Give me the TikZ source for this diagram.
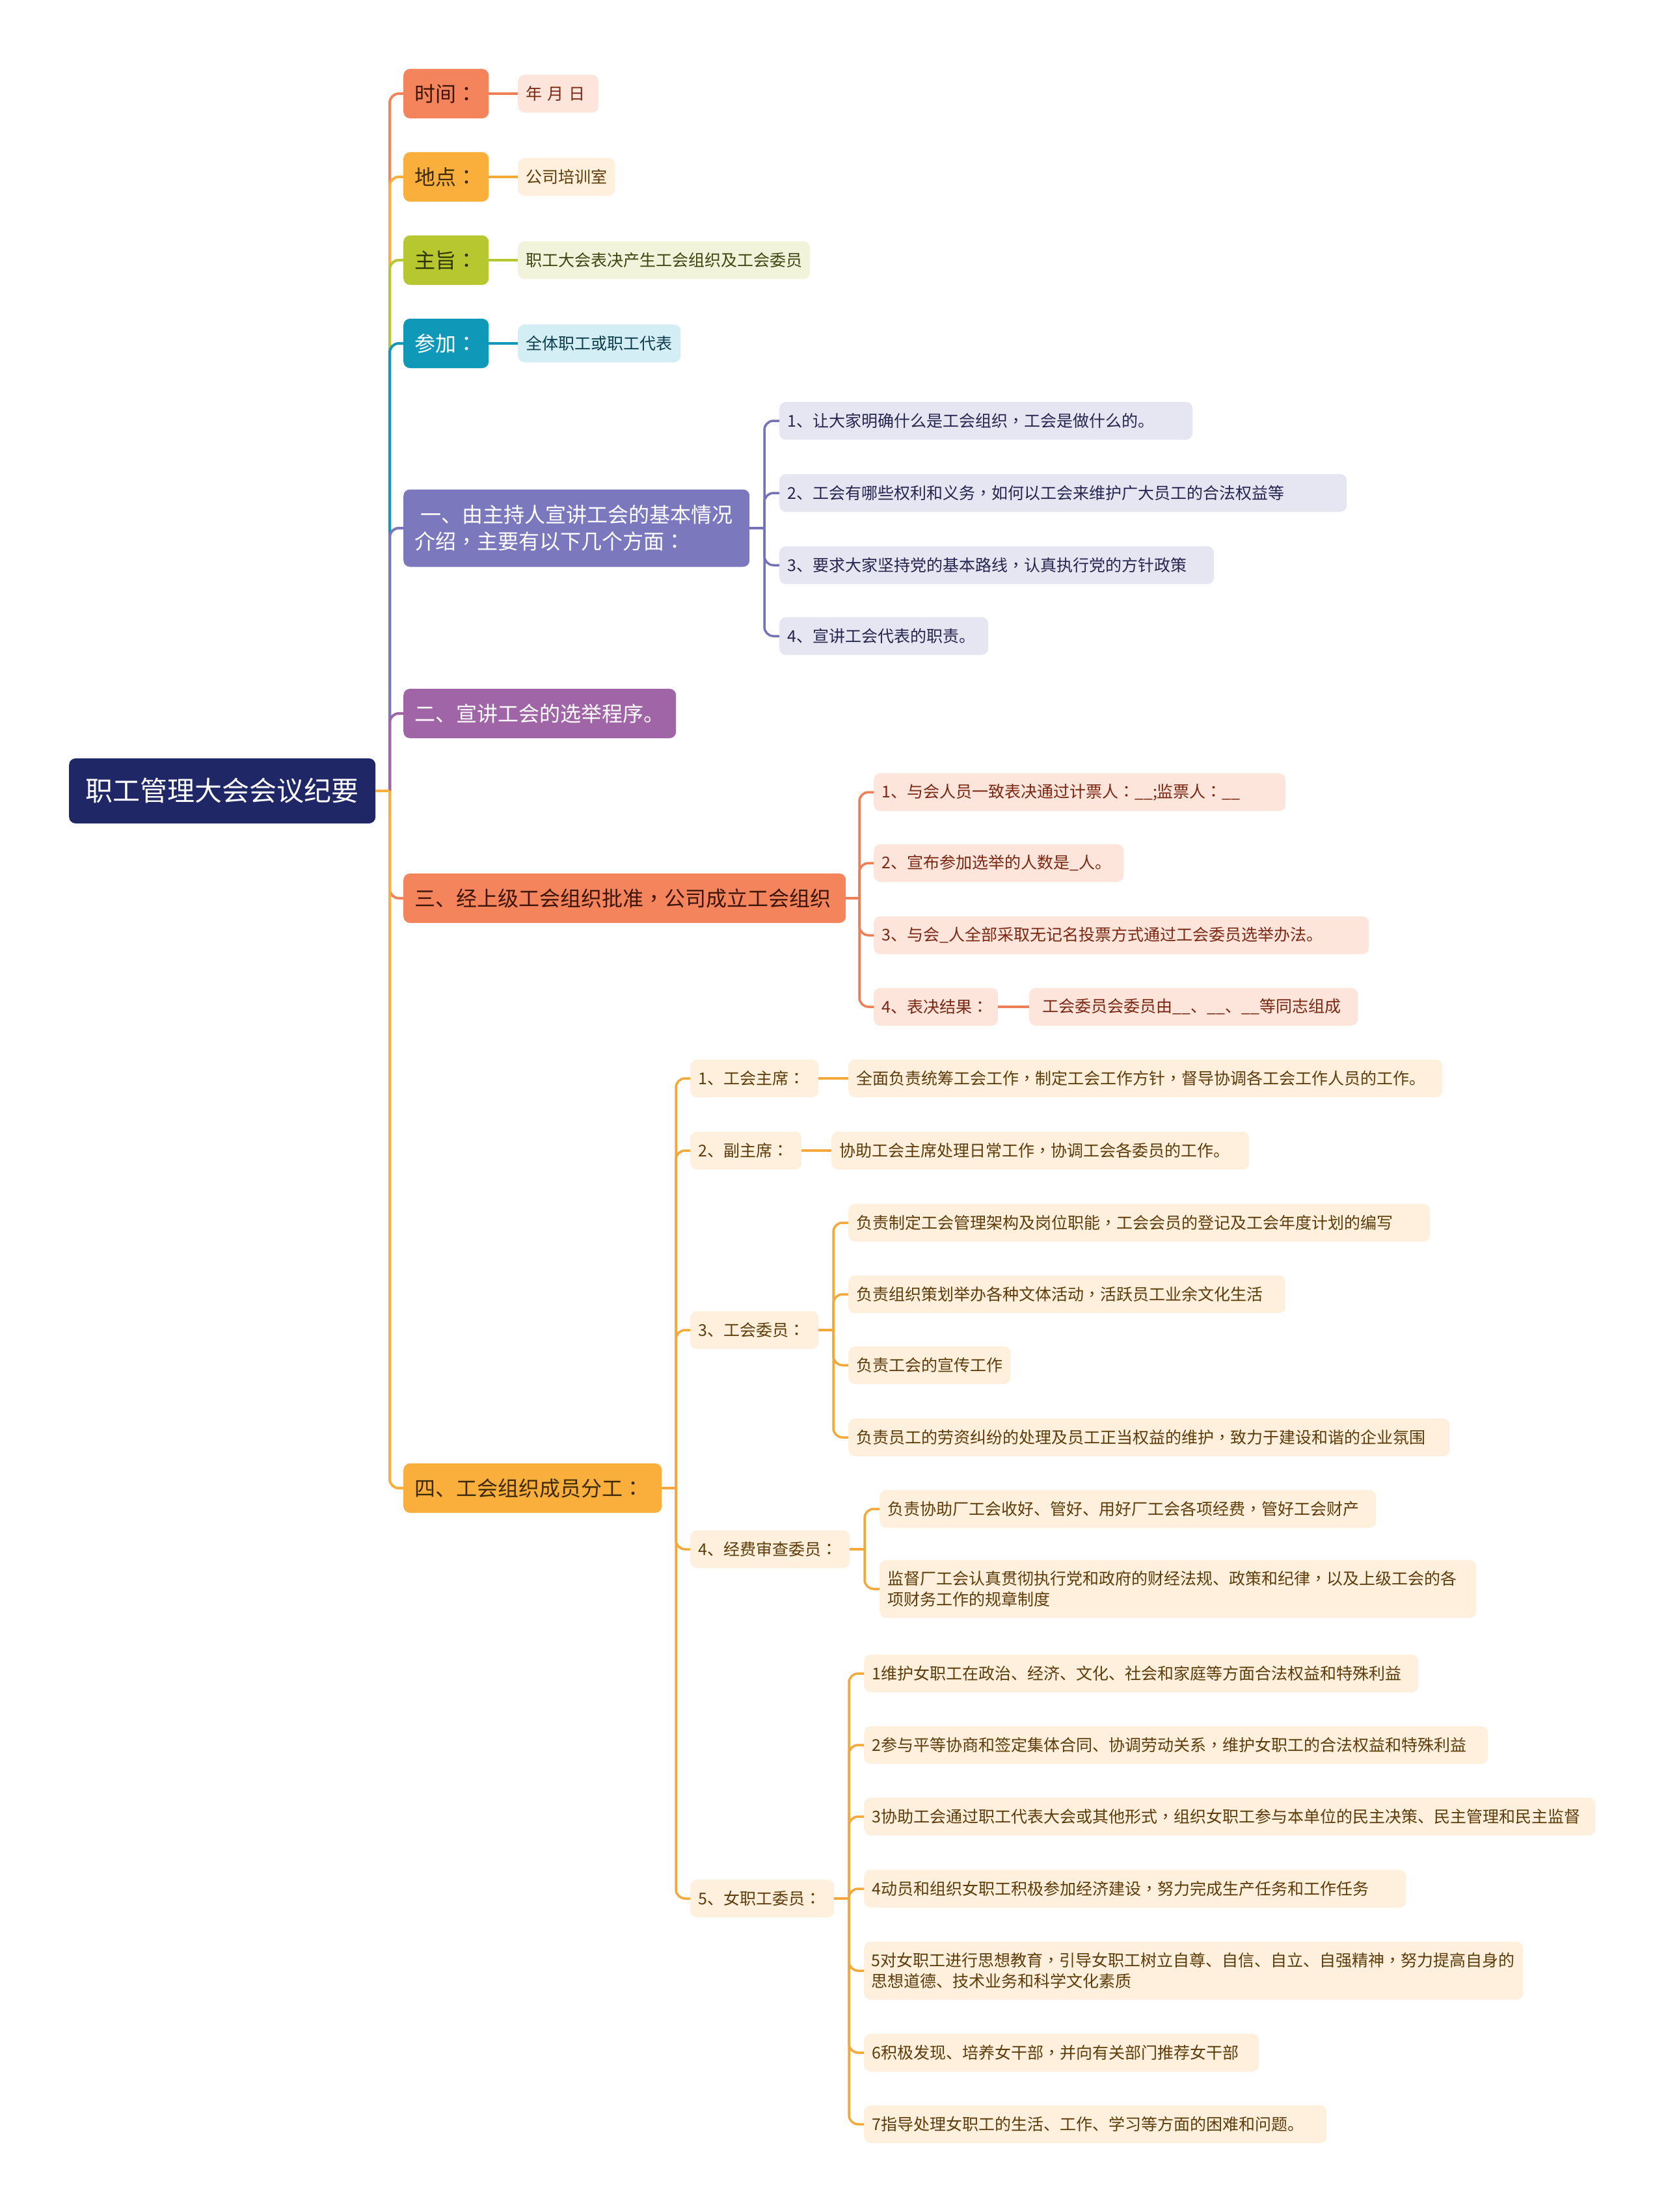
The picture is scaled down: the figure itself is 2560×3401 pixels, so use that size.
\documentclass[tikz,border=0pt]{standalone}
\usepackage{fontspec}
\setmainfont{Noto Sans CJK SC}
\newfontfamily\tcpunct{Noto Sans CJK TC}
\newcommand{\qcolon}{{\tcpunct ：}}
\newcommand{\qcomma}{{\tcpunct ，}}
\definecolor{rootc}{HTML}{1F2766}
\definecolor{ca}{HTML}{F4845C}\definecolor{cal}{HTML}{FDE5DC}\definecolor{cat}{HTML}{3B150A}\definecolor{catl}{HTML}{7A2812}
\definecolor{cb}{HTML}{FAAE3C}\definecolor{cbl}{HTML}{FEF0DC}\definecolor{cbt}{HTML}{3D2A06}\definecolor{cbtl}{HTML}{5E3C0A}
\definecolor{cc}{HTML}{B6C72F}\definecolor{ccl}{HTML}{F1F4DA}\definecolor{cct}{HTML}{2E3407}\definecolor{cctl}{HTML}{3F4510}
\definecolor{cd}{HTML}{0F98B8}\definecolor{cdl}{HTML}{D4EEF5}\definecolor{cdtl}{HTML}{0E3D4C}
\definecolor{ce}{HTML}{7B78BE}\definecolor{cel}{HTML}{E6E6F2}\definecolor{cetl}{HTML}{25254F}\definecolor{celine}{HTML}{7473B8}
\definecolor{cf}{HTML}{A065A6}
\definecolor{caline}{HTML}{EE7E55}\definecolor{cbline}{HTML}{F5A83A}
\tikzset{
  boxbase/.style={rounded corners=10pt, inner ysep=0pt, anchor=west, align=left},
  lvlone/.style={boxbase, font=\fontsize{32}{41}\selectfont, inner xsep=17pt, minimum height=76pt},
  lvltwo/.style={boxbase, font=\fontsize{25}{32}\selectfont, inner xsep=12pt, minimum height=58pt},
  lineone/.style={line width=4pt, rounded corners=14pt},
  linetwo/.style={line width=3.5pt, rounded corners=14pt},
}
\begin{document}
\begin{tikzpicture}[x=1pt,y=-1pt]
\useasboundingbox (0,0) rectangle (2560,3401);
\fill[white] (0,0) rectangle (2560,3401);

% root
\node[boxbase, fill=rootc, text=white, font=\fontsize{42}{50}\selectfont, inner xsep=22pt, minimum height=100pt, text width=427pt, align=center] (root) at (106,1216) {职工管理大会会议纪要};

% level 1
\node[lvlone, fill=ca, text=cat, text width=97pt] (t1) at (620,144) {时间\qcolon};
\node[lvlone, fill=cb, text=cbt, text width=97pt] (t2) at (620,272) {地点\qcolon};
\node[lvlone, fill=cc, text=cct, text width=97pt] (t3) at (620,400) {主旨\qcolon};
\node[lvlone, fill=cd, text=white, text width=97pt] (t4) at (620,528) {参加\qcolon};
\node[lvlone, fill=ce, text=white, text width=498pt, minimum height=119pt] (t5) at (620,812) {\hspace{0.3em}一、由主持人宣讲工会的基本情况\\介绍\qcomma 主要有以下几个方面\qcolon};
\node[lvlone, fill=cf, text=white, text width=385pt] (t6) at (620,1097) {二、宣讲工会的选举程序。};
\node[lvlone, fill=ca, text=cat, text width=646pt] (t7) at (620,1381) {三、经上级工会组织批准\qcomma 公司成立工会组织};
\node[lvlone, fill=cb, text=cbt, text width=363pt] (t8) at (620,2288) {四、工会组织成员分工\qcolon};

% level 2 simple
\node[lvltwo, fill=cal, text=catl, text width=100pt] (t1c) at (796,144) {年 月 日};
\node[lvltwo, fill=cbl, text=cbtl, text width=125pt] (t2c) at (796,272) {公司培训室};
\node[lvltwo, fill=ccl, text=cctl, text width=425pt] (t3c) at (796,400) {职工大会表决产生工会组织及工会委员};
\node[lvltwo, fill=cdl, text=cdtl, text width=226pt] (t4c) at (796,528) {全体职工或职工代表};

% children of 一
\node[lvltwo, fill=cel, text=cetl, text width=611pt] (e1) at (1198,647) {1、让大家明确什么是工会组织\qcomma 工会是做什么的。};
\node[lvltwo, fill=cel, text=cetl, text width=848pt] (e2) at (1198,758) {2、工会有哪些权利和义务\qcomma 如何以工会来维护广大员工的合法权益等};
\node[lvltwo, fill=cel, text=cetl, text width=644pt] (e3) at (1198,869) {3、要求大家坚持党的基本路线\qcomma 认真执行党的方针政策};
\node[lvltwo, fill=cel, text=cetl, text width=297pt] (e4) at (1198,978) {4、宣讲工会代表的职责。};

% children of 三
\node[lvltwo, fill=cal, text=catl, text width=609pt] (g1) at (1343,1218) {1、与会人员一致表决通过计票人\qcolon\_\_;监票人\qcolon\_\_};
\node[lvltwo, fill=cal, text=catl, text width=360pt] (g2) at (1343,1327) {2、宣布参加选举的人数是\_人。};
\node[lvltwo, fill=cal, text=catl, text width=737pt] (g3) at (1343,1438) {3、与会\_人全部采取无记名投票方式通过工会委员选举办法。};
\node[lvltwo, fill=cal, text=catl, text width=167pt] (g4) at (1343,1548) {4、表决结果\qcolon};
\node[lvltwo, fill=cal, text=catl, text width=465pt, inner xsep=20pt] (g4a) at (1582,1548) {工会委员会委员由\_\_、\_\_、\_\_等同志组成};

% children of 四
\node[lvltwo, fill=cbl, text=cbtl, text width=173pt] (h1) at (1061,1658) {1、工会主席\qcolon};
\node[lvltwo, fill=cbl, text=cbtl, text width=147pt] (h2) at (1061,1769) {2、副主席\qcolon};
\node[lvltwo, fill=cbl, text=cbtl, text width=173pt] (h3) at (1061,2045) {3、工会委员\qcolon};
\node[lvltwo, fill=cbl, text=cbtl, text width=221pt] (h4) at (1061,2382) {4、经费审查委员\qcolon};
\node[lvltwo, fill=cbl, text=cbtl, text width=197pt] (h5) at (1061,2919) {5、女职工委员\qcolon};

\node[lvltwo, fill=cbl, text=cbtl, text width=889pt] (h1a) at (1304,1658) {全面负责统筹工会工作\qcomma 制定工会工作方针\qcomma 督导协调各工会工作人员的工作。};
\node[lvltwo, fill=cbl, text=cbtl, text width=618pt] (h2a) at (1278,1769) {协助工会主席处理日常工作\qcomma 协调工会各委员的工作。};

\node[lvltwo, fill=cbl, text=cbtl, text width=870pt] (h3a) at (1304,1880) {负责制定工会管理架构及岗位职能\qcomma 工会会员的登记及工会年度计划的编写};
\node[lvltwo, fill=cbl, text=cbtl, text width=648pt] (h3b) at (1304,1990) {负责组织策划举办各种文体活动\qcomma 活跃员工业余文化生活};
\node[lvltwo, fill=cbl, text=cbtl, text width=225pt] (h3c) at (1304,2099) {负责工会的宣传工作};
\node[lvltwo, fill=cbl, text=cbtl, text width=900pt] (h3d) at (1304,2210) {负责员工的劳资纠纷的处理及员工正当权益的维护\qcomma 致力于建设和谐的企业氛围};

\node[lvltwo, fill=cbl, text=cbtl, text width=739pt] (h4a) at (1352,2320) {负责协助厂工会收好、管好、用好厂工会各项经费\qcomma 管好工会财产};
\node[lvltwo, fill=cbl, text=cbtl, text width=893pt, minimum height=89pt] (h4b) at (1352,2443) {监督厂工会认真贯彻执行党和政府的财经法规、政策和纪律\qcomma 以及上级工会的各\\项财务工作的规章制度};

\node[lvltwo, fill=cbl, text=cbtl, text width=828pt] (k1) at (1328,2573) {1维护女职工在政治、经济、文化、社会和家庭等方面合法权益和特殊利益};
\node[lvltwo, fill=cbl, text=cbtl, text width=935pt] (k2) at (1328,2683) {2参与平等协商和签定集体合同、协调劳动关系\qcomma 维护女职工的合法权益和特殊利益};
\node[lvltwo, fill=cbl, text=cbtl, text width=1100pt] (k3) at (1328,2793) {3协助工会通过职工代表大会或其他形式\qcomma 组织女职工参与本单位的民主决策、民主管理和民主监督};
\node[lvltwo, fill=cbl, text=cbtl, text width=809pt] (k4) at (1328,2904) {4动员和组织女职工积极参加经济建设\qcomma 努力完成生产任务和工作任务};
\node[lvltwo, fill=cbl, text=cbtl, text width=991pt, inner xsep=11pt, minimum height=89pt] (k5) at (1328,3030) {5对女职工进行思想教育\qcomma 引导女职工树立自尊、自信、自立、自强精神\qcomma 努力提高自身的\\思想道德、技术业务和科学文化素质};
\node[lvltwo, fill=cbl, text=cbtl, text width=583pt] (k6) at (1328,3156) {6积极发现、培养女干部\qcomma 并向有关部门推荐女干部};
\node[lvltwo, fill=cbl, text=cbtl, text width=687pt] (k7) at (1328,3266) {7指导处理女职工的生活、工作、学习等方面的困难和问题。};

% ---- connectors level 1
\coordinate (j0) at (599,1216);
\draw[lineone, ca] (j0) |- (t1.west);
\draw[lineone, cb] (j0) |- (t2.west);
\draw[lineone, cc] (j0) |- (t3.west);
\draw[lineone, cd] (j0) |- (t4.west);
\draw[lineone, ce] (j0) |- (t5.west);
\draw[lineone, cf] (j0) |- (t6.west);
\draw[lineone, ca] (j0) |- (t7.west);
\draw[lineone, cb] (j0) |- (t8.west);
\draw[line width=4pt, cb] (root.east) -- (j0);

% level 2 straight
\draw[linetwo, caline] (t1.east) -- (t1c.west);
\draw[linetwo, cbline] (t2.east) -- (t2c.west);
\draw[linetwo, cc] (t3.east) -- (t3c.west);
\draw[linetwo, cd] (t4.east) -- (t4c.west);

% 一 children
\coordinate (j5) at (1175,812);
\draw[linetwo, celine] (t5.east) -- (j5);
\foreach \n in {e1,e2,e3,e4} \draw[linetwo, celine] (j5) |- (\n.west);

% 三 children
\coordinate (j7) at (1321,1381);
\draw[linetwo, caline] (t7.east) -- (j7);
\foreach \n in {g1,g2,g3,g4} \draw[linetwo, caline] (j7) |- (\n.west);
\draw[linetwo, caline] (g4.east) -- (g4a.west);

% 四 children
\coordinate (j8) at (1039,2288);
\draw[linetwo, cbline] (t8.east) -- (j8);
\foreach \n in {h1,h2,h3,h4,h5} \draw[linetwo, cbline] (j8) |- (\n.west);
\draw[linetwo, cbline] (h1.east) -- (h1a.west);
\draw[linetwo, cbline] (h2.east) -- (h2a.west);

\coordinate (j83) at (1281,2045);
\draw[linetwo, cbline] (h3.east) -- (j83);
\foreach \n in {h3a,h3b,h3c,h3d} \draw[linetwo, cbline] (j83) |- (\n.west);

\coordinate (j84) at (1329,2382);
\draw[linetwo, cbline] (h4.east) -- (j84);
\foreach \n in {h4a,h4b} \draw[linetwo, cbline] (j84) |- (\n.west);

\coordinate (j85) at (1305,2919);
\draw[linetwo, cbline] (h5.east) -- (j85);
\foreach \n in {k1,k2,k3,k4,k5,k6,k7} \draw[linetwo, cbline] (j85) |- (\n.west);
\end{tikzpicture}
\end{document}
